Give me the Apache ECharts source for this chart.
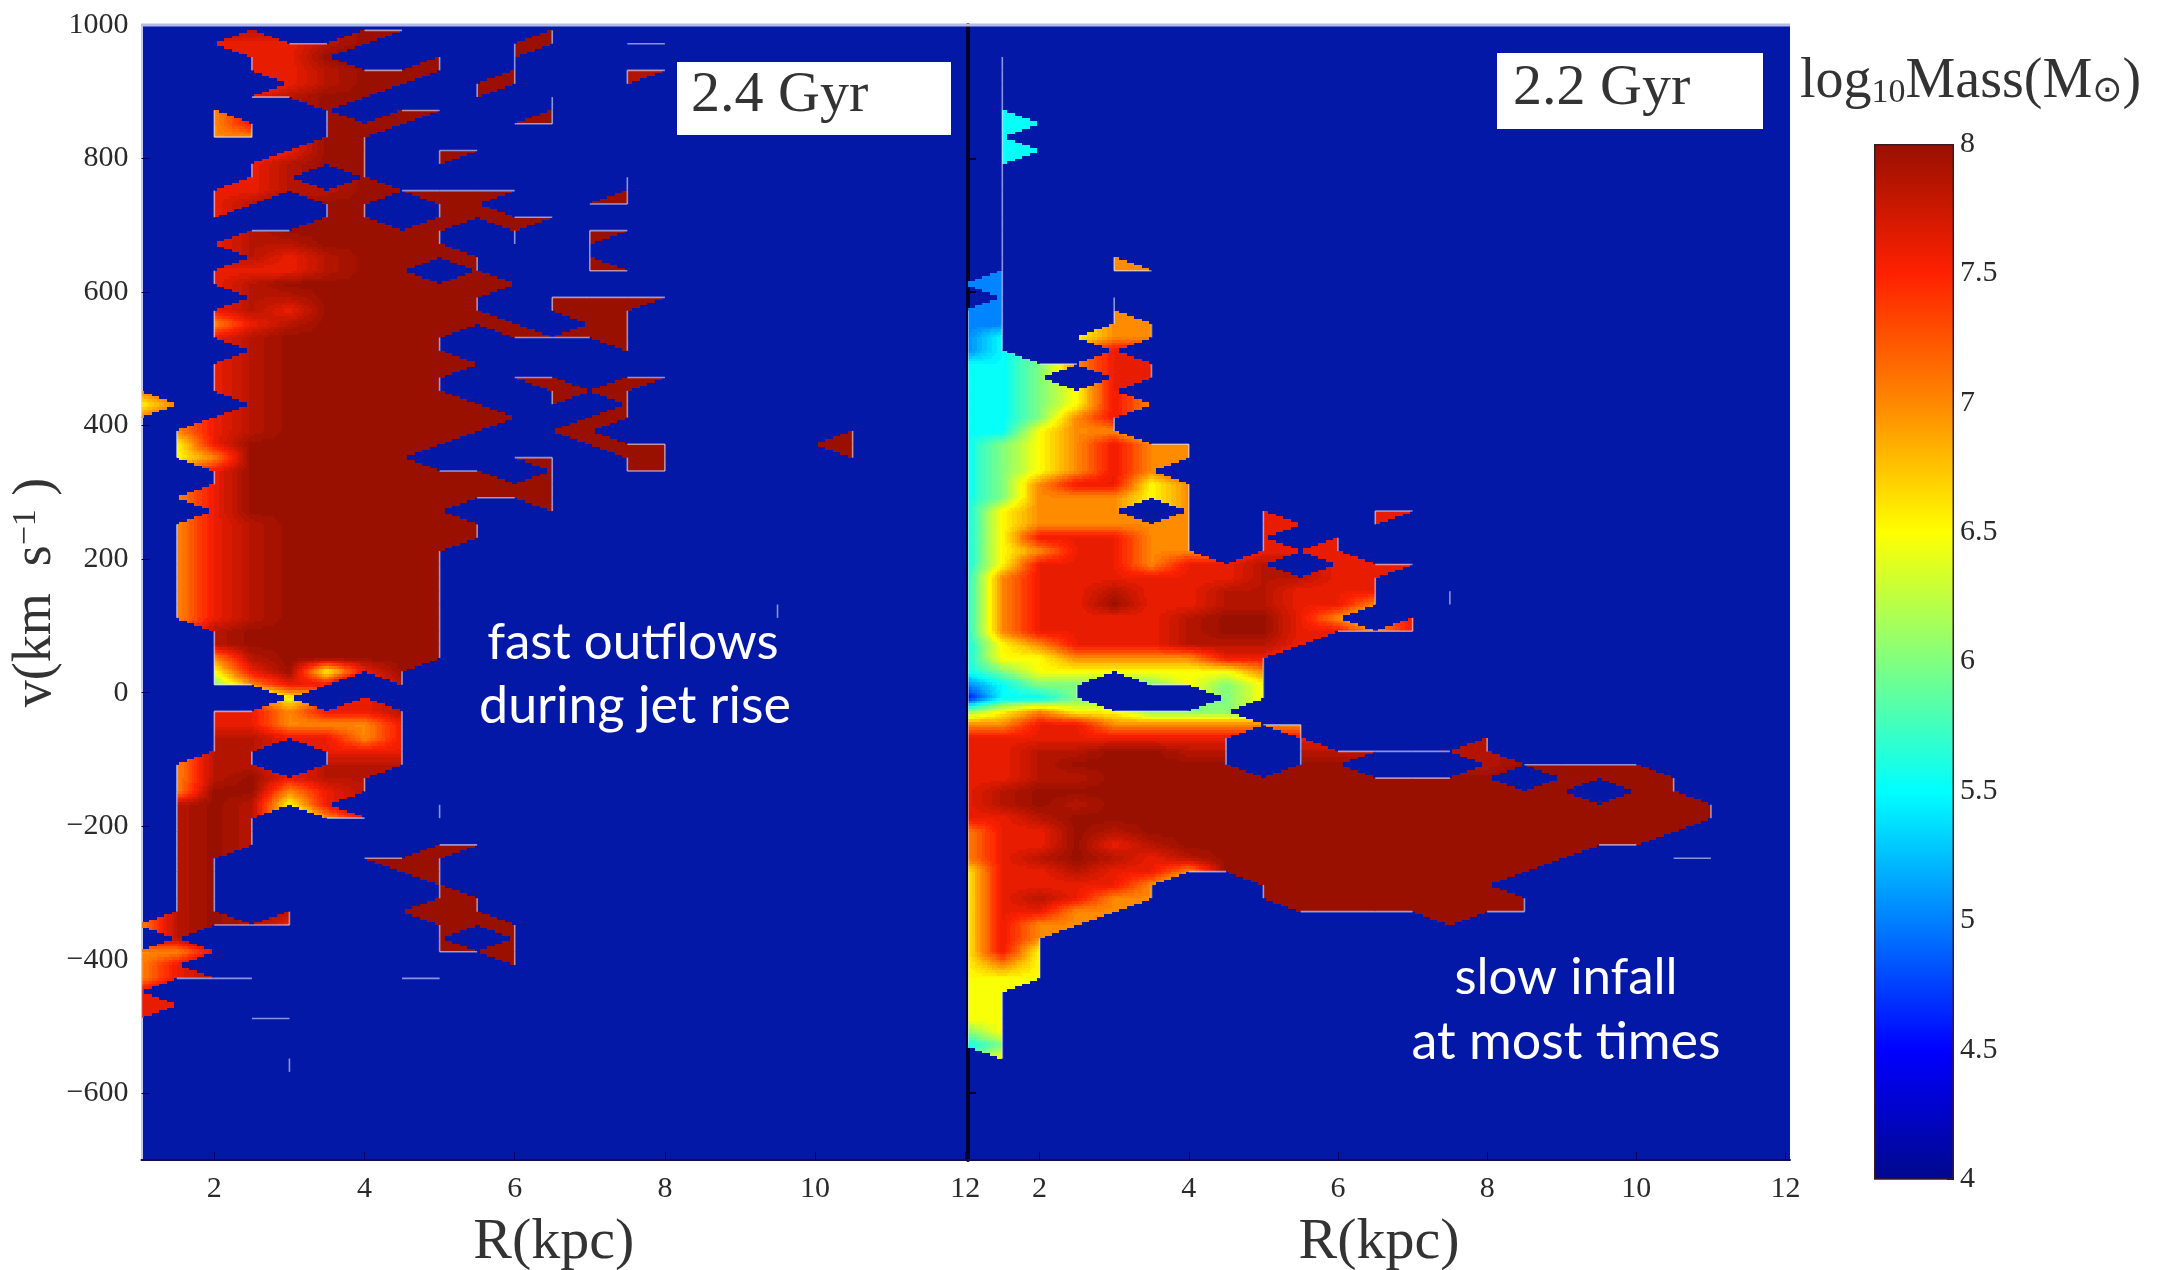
<!DOCTYPE html>
<html>
<head>
<meta charset="utf-8">
<script src="https://cdn.jsdelivr.net/npm/echarts@6/dist/echarts.min.js"></script>
<style>html,body{margin:0;padding:0;background:#fff}#c{width:2167px;height:1270px}</style>
</head>
<body>
<div id="c"></div>
<script>
// Node grid of the binned map: R = 1, 1.5, ... kpc; v = 992, 972, ... km/s
const rStart = 1, rStep = 0.5, vStart = 992, vStep = -20;
// Mass level per glyph ('.' = no mass in that bin)
const levelGlyphs = {'0':4.2,'1':4.5,'2':5,'3':5.5,'4':6,'5':6.5,'6':7,'7':7.6,'8':7.85,'9':8};
const xTicks = [2,4,6,8,10,12];
const yTicks = [-600,-400,-200,0,200,400,600,800,1000];
const barTicks = [4,4.5,5,5.5,6,6.5,7,7.5,8];

// Panel 1: 2.4 Gyr, one string per v row, one glyph per R column
const leftRows = [
"...8..99...9",
"..77789...99.88",
"...779..9.9",
"...778999.9..88",
"....7899.99..8",
"...7899..9.9",
"..6..9.99..9",
"..67.999..99",
"..66.99",
"....799.99",
"...7899.9",
"...78.9......9",
"..778899999..9",
"..78.99.99..99",
"..7..99.9999",
"...899999.9.99",
"..7889999.9.9",
"...8789999..9",
"..777899.9..99",
"..789999999",
"...8899999.9999",
"..78799999.999",
"..678999999.99",
"..7899999.9999",
"...899999....9",
"..78999999",
"..7899999.99.99",
"6.7899999..999",
"56.8999999.9.9",
"6.789999999.99",
".678999999.99......9",
".57999999...999...99",
".5699999..99.99....9",
"..79999999.9.99",
"..7999999999",
".67999999999",
"..7999999..9",
".678999999",
".678999999",
".67899999",
".67899999",
".67899999",
".67899999",
".67899999........9",
".67899999........9",
"..8999999",
"..8999999",
"..6899999",
"..579579",
"..4677.8",
"....5.7",
"..776778",
"..776667",
"..887767",
"..88.777",
".688.888",
".689788",
".699678",
".89857..8",
".898.67.8",
".898",
".898....99",
".89...999",
".89....99",
".89.....9",
".89.....99",
".89.8..999",
"68987...999",
".8......9.9",
"667.....999",
"67........9",
"6782...22",
"7",
"77",
"7..77",
"",
"",
"....7",
"....7"
];

// Panel 2: 2.2 Gyr
const rightRows = [
"",
"",
".2",
".2",
".2",
".2",
".3",
".33",
".3",
".33",
".3",
".2",
".2",
".2",
".2",
".2",
".2",
".2..6",
".2..66",
"22",
".2..6",
"22..6",
"22..66",
"23.566",
"23..7",
"334677",
"334.77",
"33457",
"334576",
"33467",
"33566",
"3456766",
"3456766",
"345676",
"3467756",
"3466656",
"35666.6.7..77",
"3566666.77.7",
"3577766.7.7",
"3567766.777",
"357776778.777",
"367777778877",
"367787788777.7",
"367797788776.7",
"36777789976.7",
"3677778997767",
"3567778887",
"355666677",
"345555556",
"2344.4545",
"1334...45",
"45655444",
"6677666666",
"77777777.7....8",
"77889988.888888",
"77899999.99...89999",
"778899999999999.9999",
"78999999999999999.99",
"789899999999999999999",
"778999999999999999999",
"67798999999999999999",
"6779789999999999999",
"67898789999999999..88",
"5778776999999999",
"577776..9999999",
"578766..99999999",
"57766....9999999",
"5766.........9",
"576",
"575",
"565",
"555",
"55",
"55",
"55",
"45",
"34",
".5"
];

const GRID_COLS = 23, GRID_ROWS = 85;
function parseRows(rows){
  const g = [];
  for (let j=0;j<GRID_ROWS;j++){
    const s = rows[j]||'', r = [];
    for (let i=0;i<GRID_COLS;i++){
      const ch = s[i];
      r.push(ch && ch!=='.' ? levelGlyphs[ch] : null);
    }
    g.push(r);
  }
  return g;
}
const rOf = i => rStart + rStep*i;
const vOf = j => vStart + vStep*j;

// jet-like colour scale for log10 mass, 4..8
const jetStops = [
  [0,[0,8,140]],[0.125,[0,0,255]],[0.25,[0,128,255]],[0.375,[0,255,255]],
  [0.5,[128,255,128]],[0.625,[255,255,0]],[0.75,[255,136,0]],[0.875,[255,32,0]],[1,[153,16,0]]
];
function jetRGB(t){
  t=Math.max(0,Math.min(1,t));
  for(let k=1;k<jetStops.length;k++){
    if(t<=jetStops[k][0]){
      const [a,ca]=jetStops[k-1],[b,cb]=jetStops[k],u=(t-a)/(b-a);
      return ca.map((c,n)=>Math.round(c+(cb[n]-c)*u));
    }
  }
  return jetStops[jetStops.length-1][1];
}
const palette=[];
for(let k=0;k<64;k++){const c=jetRGB(k/63);palette.push('rgb('+c.join(',')+')');}
const colorOf = v => palette[Math.max(0,Math.min(63,Math.round((v-4)/4*63)))];

function cellFilled(g,i,j){
  if(j<0||j>=GRID_ROWS-1||i<0||i>=GRID_COLS-1) return false;
  let n=0;
  if(g[j][i]!=null)n++; if(g[j][i+1]!=null)n++; if(g[j+1][i]!=null)n++; if(g[j+1][i+1]!=null)n++;
  return n>=3;
}
function buildItems(g){
  const items=[];
  for(let j=0;j<GRID_ROWS;j++)for(let i=0;i<GRID_COLS;i++){
    if(cellFilled(g,i,j)) items.push([i,j,0]);
    if(i<GRID_COLS-1&&g[j][i]!=null&&g[j][i+1]!=null&&!(cellFilled(g,i,j)&&cellFilled(g,i,j-1))) items.push([i,j,1]);
    if(j<GRID_ROWS-1&&g[j][i]!=null&&g[j+1][i]!=null&&!(cellFilled(g,i,j)&&cellFilled(g,i-1,j))) items.push([i,j,2]);
  }
  return items;
}
const EDGE='rgba(222,222,255,0.62)';
function makeRender(g){
  return function(params,api){
    const i=api.value(0),j=api.value(1),kind=api.value(2),rc=params.coordSys;
    const p0=api.coord([rOf(i),vOf(j)]);
    if(kind===1||kind===2){
      const p1=kind===1?api.coord([rOf(i+1),vOf(j)]):api.coord([rOf(i),vOf(j+1)]);
      const xa=Math.max(p0[0],rc.x),xb=Math.max(p1[0],rc.x);
      return {type:'line',silent:true,z2:5,shape:{x1:xa,y1:p0[1],x2:xb,y2:p1[1]},style:{stroke:EDGE,lineWidth:1.6}};
    }
    const p1=api.coord([rOf(i+1),vOf(j+1)]);
    let a=g[j][i],b=g[j][i+1],c=g[j+1][i],d=g[j+1][i+1],miss=-1;
    if(a==null){miss=0;a=b+c-d;} else if(b==null){miss=1;b=a+d-c;} else if(c==null){miss=2;c=a+d-b;} else if(d==null){miss=3;d=b+c-a;}
    const X0=p0[0],Y0=p0[1],W=p1[0]-p0[0],H=p1[1]-p0[1];
    const inside=(s,t)=>miss<0||(miss===0?s+t>=1:miss===1?t>=s:miss===2?s>=t:s+t<=1);
    const nx=Math.max(1,Math.round(W/2.5)),ny=Math.max(1,Math.round(H/2.5));
    const kids=[];
    for(let q=0;q<ny;q++){
      const t=(q+0.5)/ny,yA=Math.round(Y0+H*q/ny),yB=Math.round(Y0+H*(q+1)/ny);
      let runCol=null,runX=0;
      for(let r=0;r<=nx;r++){
        let col=null,xHere=Math.round(X0+W*r/nx);
        if(r<nx){
          const s=(r+0.5)/nx;
          if(inside(s,t)){
            const v=a*(1-s)*(1-t)+b*s*(1-t)+c*(1-s)*t+d*s*t;
            col=colorOf(v);
          }
        }
        if(col!==runCol){
          if(runCol){
            const xl=Math.max(runX,rc.x);
            if(xHere>xl) kids.push({type:'rect',silent:true,shape:{x:xl,y:yA,width:xHere-xl,height:yB-yA},style:{fill:runCol}});
          }
          runCol=col;runX=xHere;
        }
      }
    }
    return {type:'group',silent:true,children:kids};
  };
}

const leftGrid=parseRows(leftRows), rightGrid=parseRows(rightRows);
const serif='"Liberation Serif",serif', tickColor='#2a2a2a';
const minus=v=>String(v).replace('-','\u2212');

function xAxisOf(idx,min,max){
  return {type:'value',gridIndex:idx,min:min,max:max,name:'R(kpc)',nameLocation:'middle',nameGap:54,
    nameTextStyle:{fontFamily:serif,fontSize:58,color:'#333'},
    axisLine:{show:true,onZero:false,lineStyle:{color:'#10104a',width:2}},
    axisTick:{show:true,inside:true,length:8,customValues:xTicks,lineStyle:{color:'#000060',width:1}},
    splitLine:{show:false},
    axisLabel:{show:true,customValues:xTicks,margin:14,fontFamily:serif,fontSize:30,color:tickColor}};
}

const option={
  backgroundColor:'#ffffff',
  animation:false,
  grid:[
    {left:141.5,top:25,width:824.5,height:1135,outerBoundsMode:'none',show:true,backgroundColor:'#0318a6',borderWidth:0},
    {left:968,top:25,width:822,height:1135,outerBoundsMode:'none',show:true,backgroundColor:'#0318a6',borderWidth:0},
    {left:1874,top:144,width:80,height:1035,outerBoundsMode:'none'}
  ],
  xAxis:[
    xAxisOf(0,1.03,12.01),
    xAxisOf(1,1.04,12.06),
    {type:'category',gridIndex:2,data:['bar'],show:false}
  ],
  yAxis:[
    {type:'value',gridIndex:0,min:-700,max:1000,
      name:'{t|v(km  s}{s|\u22121}{t| )}',nameLocation:'middle',nameGap:72,nameRotate:90,
      nameTextStyle:{rich:{t:{fontFamily:serif,fontSize:54,color:'#333'},s:{fontFamily:serif,fontSize:34,color:'#333',verticalAlign:'top',padding:[0,0,18,0]}}},
      axisLine:{show:true,onZero:false,lineStyle:{color:'#c6c9ea',width:2}},
      axisTick:{show:true,inside:true,length:8,customValues:yTicks,lineStyle:{color:'#000060'}},
      splitLine:{show:false},
      axisLabel:{customValues:yTicks,margin:13,fontFamily:serif,fontSize:30,color:tickColor,formatter:minus}},
    {type:'value',gridIndex:1,min:-700,max:1000,
      axisLine:{show:true,onZero:false,lineStyle:{color:'#00002a',width:4}},
      axisTick:{show:true,inside:true,length:8,customValues:yTicks,lineStyle:{color:'#000020',width:2}},
      splitLine:{show:false},
      axisLabel:{show:false}},
    {type:'value',gridIndex:2,min:4,max:8,position:'right',
      axisLine:{show:false},
      axisTick:{show:true,inside:true,length:7,customValues:barTicks,lineStyle:{color:'#501010'}},
      splitLine:{show:false},
      axisLabel:{customValues:barTicks,margin:6,fontFamily:serif,fontSize:30,color:tickColor,formatter:v=>String(v)}}
  ],
  series:[
    {type:'custom',name:'2.4 Gyr',xAxisIndex:0,yAxisIndex:0,clip:true,silent:true,z:2,
      encode:{x:0,y:1},renderItem:makeRender(leftGrid),data:buildItems(leftGrid)},
    {type:'custom',name:'2.2 Gyr',xAxisIndex:1,yAxisIndex:1,clip:true,silent:true,z:2,
      encode:{x:0,y:1},renderItem:makeRender(rightGrid),data:buildItems(rightGrid)},
    {type:'bar',xAxisIndex:2,yAxisIndex:2,silent:true,barWidth:'100%',data:[8],
      itemStyle:{borderColor:'#3a1a20',borderWidth:1.5,
        color:new echarts.graphic.LinearGradient(0,1,0,0,jetStops.map(s=>({offset:s[0],color:'rgb('+s[1].join(',')+')'})))}}
  ],
  graphic:[
    {type:'line',z:99,shape:{x1:141,y1:25,x2:1790,y2:25},style:{stroke:'#b4bce6',lineWidth:3}},
    {type:'rect',z:100,shape:{x:677,y:62,width:274,height:73},style:{fill:'#ffffff'}},
    {type:'rect',z:100,shape:{x:1497,y:53,width:266,height:76},style:{fill:'#ffffff'}},
    {type:'text',z:101,x:691,y:96,style:{text:'2.4 Gyr',font:'58px "Liberation Serif"',fill:'#333',textVerticalAlign:'middle'}},
    {type:'text',z:101,x:1513,y:89,style:{text:'2.2 Gyr',font:'58px "Liberation Serif"',fill:'#333',textVerticalAlign:'middle'}},
    {type:'text',z:101,x:633,y:643,style:{text:'fast outflows',font:'51px Lato',fill:'#ffffff',textAlign:'center',textVerticalAlign:'middle'}},
    {type:'text',z:101,x:635,y:706,style:{text:'during jet rise',font:'52px Lato',fill:'#ffffff',textAlign:'center',textVerticalAlign:'middle'}},
    {type:'text',z:101,x:1566,y:978,style:{text:'slow infall',font:'51px Lato',fill:'#ffffff',textAlign:'center',textVerticalAlign:'middle'}},
    {type:'text',z:101,x:1566,y:1042,style:{text:'at most times',font:'52px Lato',fill:'#ffffff',textAlign:'center',textVerticalAlign:'middle'}},
    {type:'text',z:101,x:1800,y:82,style:{
      rich:{t:{font:'56px "Liberation Serif"',fill:'#333'},s:{font:'34px "Liberation Serif"',fill:'#333',verticalAlign:'bottom'},o:{font:'36px "DejaVu Sans"',fill:'#333',verticalAlign:'bottom'}},
      text:'{t|log}{s|10}{t|Mass(M}{o|\u2299}{t|)}',textVerticalAlign:'middle'}}
  ]
};
const chart=echarts.init(document.getElementById('c'),null,{renderer:'canvas'});
chart.setOption(option);
</script>
</body>
</html>
